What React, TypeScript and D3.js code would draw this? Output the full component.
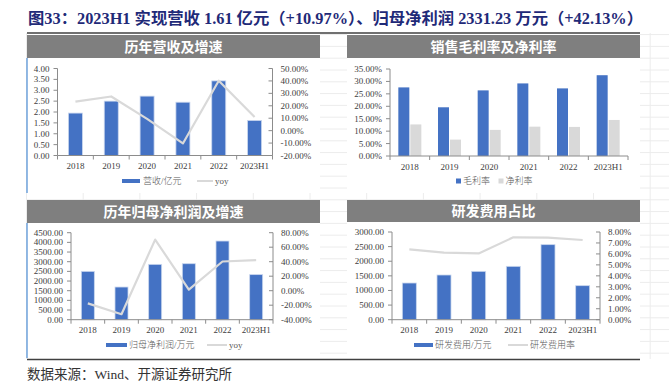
import React from "react";
import * as d3 from "d3";

const years = ["2018", "2019", "2020", "2021", "2022", "2023H1"];
const revenue = [1.95, 2.5, 2.73, 2.45, 3.43, 1.61];
const revenueYoy = [23.3, 27.5, 9.5, -10.3, 40.2, 10.97];
const grossMargin = [27.6, 19.6, 26.4, 29.2, 27.2, 32.5];
const netMargin = [12.7, 6.6, 10.5, 11.8, 11.7, 14.5];
const netProfit = [2500, 1690, 2862, 2896, 4069, 2331.23];
const netProfitYoy = [-17.5, -32.4, 70.5, 1.5, 40.3, 42.13];
const rdExpense = [1255, 1529, 1654, 1825, 2567, 1164];
const rdRate = [6.42, 6.11, 6.05, 7.51, 7.48, 7.27];

const revTicks = [0, 0.5, 1, 1.5, 2, 2.5, 3, 3.5, 4];
const revYoyTicks = [-20, -10, 0, 10, 20, 30, 40, 50];
const marginTicks = [0, 5, 10, 15, 20, 25, 30, 35];
const profitTicks = [0, 500, 1000, 1500, 2000, 2500, 3000, 3500, 4000, 4500];
const profitYoyTicks = [-40, -20, 0, 20, 40, 60, 80];
const rdTicks = [0, 500, 1000, 1500, 2000, 2500, 3000];
const rdRateTicks = [0, 1, 2, 3, 4, 5, 6, 7, 8];

const SERIF = "'Liberation Serif','Times New Roman','Noto Sans CJK SC',serif";
const CJK = "'Noto Sans CJK SC','Noto Sans CJK JP',sans-serif";
const BLUE = "#4472C4";
const LGRAY = "#d9d9d9";
const AXIS = "#8c8c8c";
const TXT = "#404040";

const pct = (v: number) => v.toFixed(2) + "%";
const fix2 = (v: number) => v.toFixed(2);

type Panel = {
  x0: number; x1: number; yTop: number; yBot: number;
  leftTicks: number[]; leftFmt: (v: number) => string;
  rightTicks?: number[];
  bars: number[]; bars2?: number[]; line?: number[];
  barW: number; labelY: number;
  legendY: number; leg: { x: number; w: number; h: number; text: string; tx: number; kind: "rect" | "line"; color: string }[];
};

function ChartPanel(p: Panel) {
  const x = d3.scaleBand<string>().domain(years).range([p.x0, p.x1]);
  const lt = p.leftTicks;
  const yl = d3.scaleLinear().domain([lt[0], lt[lt.length - 1]]).range([p.yBot, p.yTop]);
  const rt = p.rightTicks;
  const yr = rt ? d3.scaleLinear().domain([rt[0], rt[rt.length - 1]]).range([p.yBot, p.yTop]) : null;
  const cx = (c: string) => (x(c) as number) + x.bandwidth() / 2;
  const lineGen = d3.line<number>().x((_, i) => cx(years[i])).y((v) => (yr ? yr(v) : 0));
  const bounds = years.map((c) => x(c) as number).concat([p.x1]);
  return (
    <g>
      {p.bars.map((v, i) =>
        p.bars2 ? (
          <g key={i}>
            <rect x={cx(years[i]) - p.barW - 0.5} y={yl(v)} width={p.barW} height={p.yBot - yl(v)} fill={BLUE} />
            <rect x={cx(years[i]) + 0.5} y={yl(p.bars2[i])} width={p.barW} height={p.yBot - yl(p.bars2[i])} fill={LGRAY} />
          </g>
        ) : (
          <rect key={i} x={cx(years[i]) - p.barW / 2} y={yl(v)} width={p.barW} height={p.yBot - yl(v)} fill={BLUE} stroke="#c9d6ee" strokeWidth={0.8} />
        )
      )}
      {p.line && yr && (
        <path d={lineGen(p.line) as string} fill="none" stroke={LGRAY} strokeWidth={2.2} strokeLinejoin="round" />
      )}
      {/* left axis */}
      <line x1={p.x0} x2={p.x0} y1={p.yTop} y2={p.yBot} stroke={AXIS} strokeWidth={1} />
      {lt.map((t) => (
        <g key={"l" + t}>
          <line x1={p.x0 - 4} x2={p.x0} y1={yl(t)} y2={yl(t)} stroke={AXIS} />
          <text x={p.x0 - 8} y={yl(t) + 3} textAnchor="end" fontSize={9} fontFamily={SERIF} fill={TXT}>{p.leftFmt(t)}</text>
        </g>
      ))}
      {/* right axis */}
      {rt && yr && (
        <g>
          <line x1={p.x1} x2={p.x1} y1={p.yTop} y2={p.yBot} stroke={AXIS} />
          {rt.map((t) => (
            <g key={"r" + t}>
              <line x1={p.x1 - 4} x2={p.x1} y1={yr(t)} y2={yr(t)} stroke={AXIS} />
              <text x={p.x1 + 8} y={yr(t) + 3} fontSize={9} fontFamily={SERIF} fill={TXT}>{pct(t)}</text>
            </g>
          ))}
        </g>
      )}
      {/* x axis */}
      <line x1={p.x0} x2={p.x1} y1={p.yBot} y2={p.yBot} stroke={AXIS} />
      {bounds.map((b, i) => (
        <line key={"b" + i} x1={b} x2={b} y1={p.yBot} y2={p.yBot + 4} stroke={AXIS} />
      ))}
      {years.map((c) => (
        <text key={c} x={cx(c)} y={p.labelY} textAnchor="middle" fontSize={9} fontFamily={SERIF} fill={TXT}>{c}</text>
      ))}
      {/* legend */}
      {p.leg.map((l, i) => (
        <g key={"g" + i}>
          {l.kind === "rect" ? (
            <rect x={l.x} y={p.legendY - l.h / 2} width={l.w} height={l.h} fill={l.color} />
          ) : (
            <line x1={l.x} x2={l.x + l.w} y1={p.legendY} y2={p.legendY} stroke={l.color} strokeWidth={2} />
          )}
          <text x={l.tx} y={p.legendY + 3.2} fontSize={9} fontFamily={SERIF} fontWeight={300} fill="#595959">{l.text}</text>
        </g>
      ))}
    </g>
  );
}

function TitleBar({ x, y, w, h, text }: { x: number; y: number; w: number; h: number; text: string }) {
  return (
    <g>
      <rect x={x} y={y} width={w} height={h} fill="#7f7f7f" />
      <text x={x + w / 2} y={y + h / 2 + 5} textAnchor="middle" fontSize={14} fontWeight={700} fontFamily={CJK} fill="#fff">{text}</text>
    </g>
  );
}

export default function App() {
  const W = 669, H = 387;
  const gridX = d3.range(0, 12).map((k) => 26.5 + 56.7 * k);
  const gridY = d3.range(-3, 27).map((k) => 70 + 11.8 * k);
  return (
    <svg width={W} height={H} style={{ position: "absolute", left: 0, top: 0, background: "#fff" }}>
      <rect x={0} y={0} width={W} height={H} fill="#fff" />
      {/* spreadsheet grid */}
      <g stroke="#ececec" strokeWidth={1}>
        {gridX.map((gx, i) => <line key={"gx" + i} x1={gx} x2={gx} y1={33} y2={359} />)}
        {gridY.filter((gy) => gy > 33 && gy < 359).map((gy, i) => <line key={"gy" + i} x1={27} x2={669} y1={gy} y2={gy} />)}
      </g>
      {/* chart boxes */}
      <rect x={27} y={33} width={293} height={160} fill="#fff" />
      <rect x={347} y={33} width={293} height={160} fill="#fff" />
      <rect x={27} y={200} width={293} height={159} fill="#fff" />
      <rect x={347} y={200} width={293} height={159} fill="#fff" />

      <text x={28} y={24} fontSize={16} fontWeight={700} fontFamily={SERIF} fill="#1f2a78" textLength={615} lengthAdjust="spacingAndGlyphs">
        图33：2023H1 实现营收 1.61 亿元（+10.97%）、归母净利润 2331.23 万元（+42.13%）
      </text>
      <line x1={27} x2={640} y1={33} y2={33} stroke="#404040" strokeWidth={1.5} />
      <line x1={27} x2={640} y1={359.5} y2={359.5} stroke="#404040" strokeWidth={1.5} />
      <line x1={27} x2={27} y1={58} y2={193} stroke="#6fa3dc" strokeWidth={1.5} />
      <line x1={27} x2={27} y1={223} y2={358} stroke="#6fa3dc" strokeWidth={1.5} />

      <TitleBar x={27} y={35} w={293} h={23} text="历年营收及增速" />
      <TitleBar x={347} y={35} w={293} h={23} text="销售毛利率及净利率" />
      <TitleBar x={27} y={200} w={293} h={23} text="历年归母净利润及增速" />
      <TitleBar x={347} y={200} w={293} h={22} text="研发费用占比" />

      <ChartPanel
        x0={57.5} x1={272.5} yTop={68.5} yBot={155.5}
        leftTicks={revTicks} leftFmt={fix2} rightTicks={revYoyTicks}
        bars={revenue} line={revenueYoy} barW={14} labelY={168.5} legendY={181}
        leg={[
          { x: 122, w: 18, h: 4, text: "营收/亿元", tx: 143, kind: "rect", color: BLUE },
          { x: 197, w: 16, h: 2, text: "yoy", tx: 215, kind: "line", color: LGRAY },
        ]}
      />
      <ChartPanel
        x0={390} x1={628} yTop={69} yBot={156}
        leftTicks={marginTicks} leftFmt={pct}
        bars={grossMargin} bars2={netMargin} barW={11} labelY={169.5} legendY={181}
        leg={[
          { x: 456, w: 5, h: 5, text: "毛利率", tx: 463, kind: "rect", color: BLUE },
          { x: 498.5, w: 5, h: 5, text: "净利率", tx: 505.5, kind: "rect", color: LGRAY },
        ]}
      />
      <ChartPanel
        x0={71} x1={273} yTop={232.7} yBot={319.7}
        leftTicks={profitTicks} leftFmt={fix2} rightTicks={profitYoyTicks}
        bars={netProfit} line={netProfitYoy} barW={13} labelY={332.5} legendY={345}
        leg={[
          { x: 106, w: 21, h: 4, text: "归母净利润/万元", tx: 129, kind: "rect", color: BLUE },
          { x: 207, w: 20, h: 2, text: "yoy", tx: 229, kind: "line", color: LGRAY },
        ]}
      />
      <ChartPanel
        x0={392} x1={600} yTop={232} yBot={319.7}
        leftTicks={rdTicks} leftFmt={fix2} rightTicks={rdRateTicks}
        bars={rdExpense} line={rdRate} barW={14} labelY={332.5} legendY={345}
        leg={[
          { x: 414, w: 19, h: 4, text: "研发费用/万元", tx: 435, kind: "rect", color: BLUE },
          { x: 508, w: 20, h: 2, text: "研发费用率", tx: 530, kind: "line", color: LGRAY },
        ]}
      />

      <text x={27} y={379} fontSize={13.5} fontFamily={SERIF} fill="#333">数据来源：Wind、开源证券研究所</text>
    </svg>
  );
}
